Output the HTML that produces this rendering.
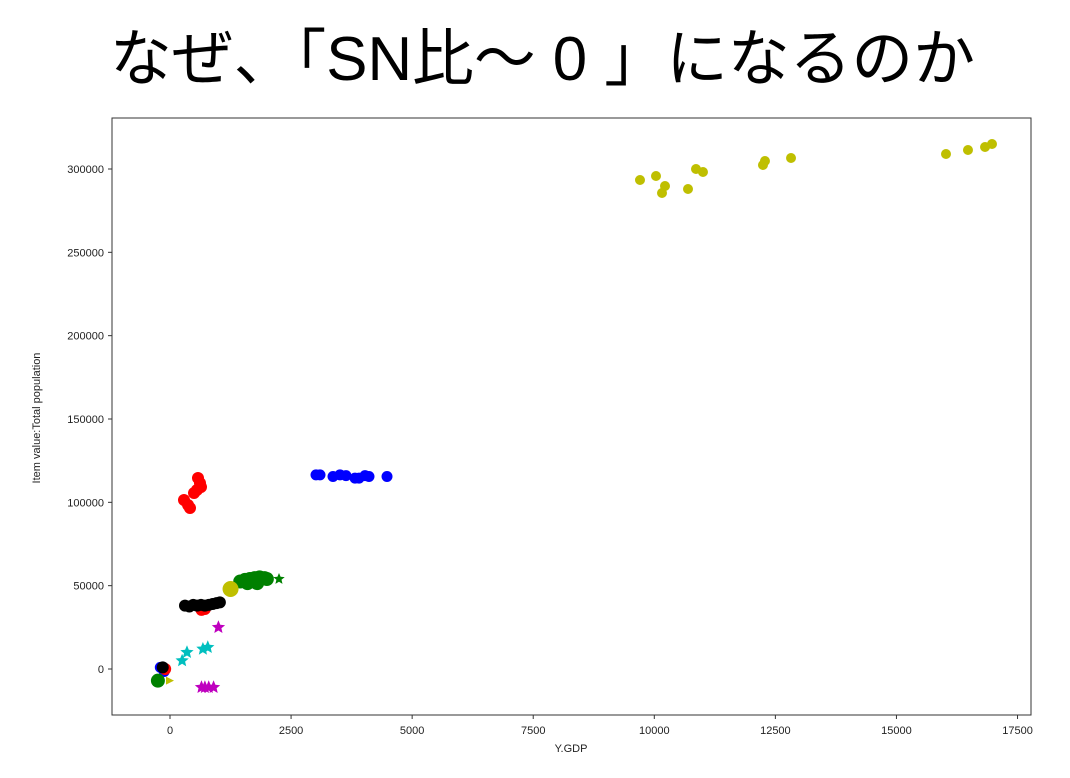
<!DOCTYPE html>
<html><head><meta charset="utf-8"><style>
html,body{margin:0;padding:0;background:#fff;}
svg{display:block;font-family:"Liberation Sans","DejaVu Sans",sans-serif;}
</style></head><body>
<svg id="chart" width="1070" height="778" viewBox="0 0 1070 778">
<text x="110" y="80" font-size="62" font-family="'Liberation Sans','Noto Sans CJK JP',sans-serif" textLength="865" lengthAdjust="spacingAndGlyphs">なぜ、「SN比～ 0 」になるのか</text>
<rect x="112" y="118" width="919" height="597" fill="#fff" stroke="#333" stroke-width="1"/>
<g id="axes"></g>
<g id="marks"></g>
<text x="571" y="752" font-size="11" text-anchor="middle" fill="#222">Y.GDP</text>
<text x="40" y="418" font-size="11" text-anchor="middle" fill="#222" transform="rotate(-90 40 418)">Item value:Total population</text>
</svg>
<script>
const xTicks=[0,2500,5000,7500,10000,12500,15000,17500];
const yTicks=[0,50000,100000,150000,200000,250000,300000];
const yellowX=[9705,10035,10159,10221,10696,10861,11005,12244,12285,12823,16023,16477,16829,16973];
const yellowY=[293400,295800,285600,289800,288000,300000,298200,302400,304800,306600,309000,311400,313200,315000];
const blueX=[3015,3097,3366,3510,3634,3820,3903,4027,4109,4481,-200,-120];
const blueY=[116500,116500,115500,116500,116000,114500,114500,116000,115500,115500,1000,-1500];
const redX=[289,372,413,496,557,578,619,640,650,720,-100];
const redY=[101400,98400,96600,105600,107400,114600,111600,109200,35500,36000,0];
const blackX=[310,400,480,560,640,720,800,880,960,1030,-150];
const blackY=[38000,37500,38500,38000,38500,38000,38500,39000,39500,40000,1000];
const greenX=[1450,1550,1650,1750,1850,1950,2000,1600,1800,-250];
const greenY=[52500,53500,54000,54500,55000,54500,54000,51500,51500,-7000];
const greenStarX=[2250];
const greenStarY=[54000];
const yellowBigX=[1250];
const yellowBigY=[48000];
const yellowSmallX=[0];
const yellowSmallY=[-7000];
const magentaX=[1000,650,720,800,900];
const magentaY=[25000,-11000,-11000,-11000,-11000];
const cyanX=[250,350,680,780];
const cyanY=[5000,10000,12000,13000];
const NS="http://www.w3.org/2000/svg";
const sx=v=>170+v*0.04843;
const sy=v=>669-v*0.0016667;
const axes=document.getElementById('axes'),marks=document.getElementById('marks');
function mk(tag,attrs,parent){const e=document.createElementNS(NS,tag);for(const k in attrs)e.setAttribute(k,attrs[k]);parent.appendChild(e);return e;}
xTicks.forEach(t=>{
 const l=mk('line',{x1:sx(t),x2:sx(t),y1:715,y2:719,stroke:'#333'},axes);
 
 
 const tx=mk('text',{x:sx(t),y:734,'font-size':11,'text-anchor':'middle',fill:'#222'},axes);
 tx.textContent=t;
 
 
});
yTicks.forEach(t=>{
 const l=mk('line',{x1:108,x2:112,y1:sy(t),y2:sy(t),stroke:'#333'},axes);
 
 
 const tx=mk('text',{x:104,y:sy(t)+4,'font-size':11,'text-anchor':'end',fill:'#222'},axes);
 tx.textContent=t;
 
 
});
function star(cx,cy,r){let p=[];for(let i=0;i<10;i++){const a=-Math.PI/2+i*Math.PI/5,rr=i%2?r*0.45:r;p.push((cx+rr*Math.cos(a)).toFixed(1)+','+(cy+rr*Math.sin(a)).toFixed(1));}return p.join(' ');}
function series(xs,ys,color,r,shape,name){
 xs.forEach((x,i)=>{
  let e;
  if(shape==='star'){e=mk('polygon',{points:star(sx(x),sy(ys[i]),r),fill:color},marks);}
  else if(shape==='tri'){const cx=sx(x),cy=sy(ys[i]);e=mk('polygon',{points:`${cx-r},${cy-r} ${cx+r},${cy} ${cx-r},${cy+r}`,fill:color},marks);}
  else{e=mk('circle',{cx:sx(x),cy:sy(ys[i]),r:r,fill:color},marks);}
  
  
 });
}
series(yellowX,yellowY,'#bfbf00',5,'circle','yellow-point');
series(blueX,blueY,'#0000ff',5.5,'circle','blue-point');
series(redX,redY,'#ff0000',6,'circle','red-point');
series(blackX,blackY,'#000000',6,'circle','black-point');
series(greenX,greenY,'#008000',7,'circle','green-point');
series(greenStarX,greenStarY,'#008000',6,'star','green-star');
series(yellowBigX,yellowBigY,'#bfbf00',8,'circle','yellow-big-point');
series(yellowSmallX,yellowSmallY,'#bfbf00',4,'tri','yellow-triangle');
series(magentaX,magentaY,'#bf00bf',7,'star','magenta-star');
series(cyanX,cyanY,'#00bfbf',7,'star','cyan-star');
</script>
</body></html>
